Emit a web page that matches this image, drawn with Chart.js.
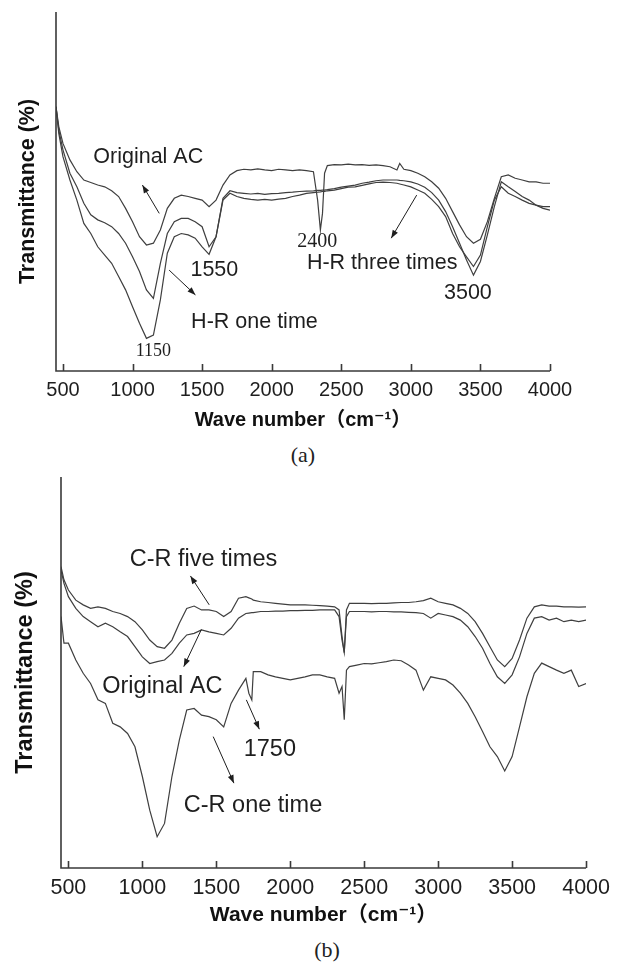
<!DOCTYPE html>
<html>
<head>
<meta charset="utf-8">
<script src="https://cdn.jsdelivr.net/npm/chart.js@4.4.0/dist/chart.umd.min.js"></script>
<style>
  body { margin: 0; background: #fff; width: 617px; height: 964px; position: relative; overflow: hidden; }
  .panel { position: absolute; left: 0; width: 617px; }
  .cap { position: absolute; font-family: "Liberation Serif", "Times New Roman", serif; font-size: 22px;
         line-height: 24px; text-align: center; color: #222; width: 200px; }
</style>
</head>
<body>
<div class="panel" style="top:0;height:440px"><canvas id="chartA"></canvas></div>
<div class="cap" style="left:203px;top:443px">(a)</div>
<div class="panel" style="top:464px;height:470px"><canvas id="chartB"></canvas></div>
<div class="cap" style="left:227px;top:938px">(b)</div>
<script>
// wave numbers (cm-1) and transmittance readings, panel (a)
const waveA = [450,470,500,550,600,650,700,750,800,850,900,950,1000,1050,1100,1150,1200,1250,1300,1350,1400,1450,1500,1550,1600,1650,1700,1750,1800,1850,1900,1950,2000,2050,2100,2150,2200,2250,2300,2330,2350,2365,2380,2400,2450,2500,2550,2600,2650,2700,2750,2800,2850,2900,2920,2950,3000,3050,3100,3150,3200,3250,3300,3350,3400,3450,3500,3550,3600,3650,3700,3750,3800,3850,3900,3950,4000];
const origA = [73.6,68.1,63.4,58.8,55.5,53.2,52.5,51.8,51.3,50.2,48.6,45.3,41.6,37.4,35.1,35.6,39.3,45.3,48.1,49.0,48.6,48.1,47.6,45.8,47.6,51.8,54.6,55.8,56.2,56.0,56.3,56.0,55.8,56.2,56.0,55.8,56.0,55.8,55.5,47.6,39.3,43.9,55.1,57.2,57.5,57.4,57.6,57.4,57.5,57.3,57.4,57.2,56.9,56.0,57.8,56.2,55.8,55.1,54.1,52.7,50.9,48.1,44.4,40.7,37.4,35.6,36.7,41.6,48.1,54.1,54.6,53.7,53.2,52.7,52.7,52.3,52.3];
const hr3A = [73.6,67.1,61.6,55.1,51.3,46.7,43.5,42.1,41.3,40.2,38.3,35.6,31.8,27.7,22.6,20.2,30.0,38.3,41.6,42.5,42.5,41.6,40.2,34.6,37.4,48.1,50.2,49.7,49.5,49.3,49.5,49.2,49.4,49.5,49.7,49.8,50.0,50.1,50.2,50.3,50.3,50.4,50.4,50.5,50.8,51.2,51.5,51.8,52.3,52.6,53.0,53.2,53.2,53.2,53.1,53.0,52.7,52.1,51.2,49.7,47.6,44.4,40.2,35.6,30.9,26.7,30.5,37.9,45.8,52.7,51.3,50.0,48.6,47.6,46.2,45.3,44.8];
const hr1A = [73.6,66.2,59.7,53.2,47.6,41.1,38.3,34.6,32.3,30.0,26.3,22.6,17.9,13.3,9.1,10.0,19.8,32.8,37.4,38.3,37.9,37.0,34.6,32.5,37.4,47.6,49.5,48.6,48.1,47.8,47.6,47.8,47.6,47.9,48.1,48.6,49.0,49.5,49.7,49.8,49.9,50.0,50.0,50.2,50.4,50.8,51.2,51.3,51.7,52.1,52.5,52.6,52.5,52.3,52.1,51.8,51.3,50.4,49.5,47.8,45.8,43.0,38.3,34.6,31.8,29.1,32.3,40.2,47.6,51.3,49.5,48.6,47.6,46.7,46.2,45.8,45.8];

// panel (b)
const waveB = [450,470,500,550,600,650,700,750,800,850,900,950,1000,1050,1100,1150,1200,1250,1300,1350,1400,1450,1500,1550,1600,1650,1700,1720,1740,1750,1800,1850,1900,1950,2000,2050,2100,2150,2200,2250,2300,2330,2350,2365,2380,2400,2450,2500,2550,2600,2650,2700,2750,2800,2850,2900,2950,3000,3050,3100,3150,3200,3250,3300,3350,3400,3450,3500,3550,3600,3650,3700,3750,3800,3850,3900,3950,4000];
const cr5B = [77.1,73.7,71.1,68.5,67.3,66.4,66.8,66.4,65.6,65.1,64.3,63.0,60.9,58.3,56.6,56.2,58.3,62.6,66.4,67.0,66.0,66.0,65.6,64.3,65.6,69.0,69.4,69.1,68.8,68.5,68.1,67.9,67.7,67.5,67.3,67.3,67.3,67.2,67.1,67.0,66.8,66.0,59.2,55.1,66.0,67.7,67.7,67.7,67.6,67.7,67.7,67.8,67.9,67.9,68.1,68.4,69.0,68.1,67.7,67.3,66.4,65.1,63.0,60.0,56.6,53.2,51.5,53.6,58.3,63.9,66.8,67.3,67.0,67.0,66.8,66.8,66.7,66.8];
const origB = [76.2,72.8,69.4,66.4,64.3,63.0,61.7,62.6,61.7,60.4,59.2,56.6,54.0,52.3,52.8,53.2,54.9,57.5,59.6,60.0,60.9,60.4,60.0,59.6,61.3,63.9,65.1,65.2,65.3,65.3,65.6,65.6,65.7,65.7,65.8,65.8,65.9,65.9,66.0,66.0,66.0,64.3,58.3,55.1,64.3,65.6,65.6,65.6,65.5,65.6,65.6,65.5,65.5,65.4,65.3,65.1,63.9,65.1,64.7,64.3,63.4,61.7,59.2,56.2,52.3,48.9,47.2,49.4,54.0,60.0,63.9,64.3,63.4,63.9,63.0,63.4,63.0,63.4];
const cr1B = [64.3,57.5,57.5,53.2,49.8,47.2,43.0,42.1,37.0,36.1,34.4,31.0,23.4,14.8,8.0,11.4,23.4,32.7,40.4,40.8,39.1,38.7,37.9,36.1,42.1,45.5,48.5,44.7,43.0,50.2,50.2,49.4,48.9,48.5,48.1,48.5,48.9,49.4,49.4,48.9,48.5,44.7,46.4,37.9,50.6,51.5,51.9,52.3,52.2,52.5,52.8,53.2,53.0,51.9,50.6,45.5,48.9,48.5,48.1,46.8,44.7,42.1,38.7,34.9,31.0,28.5,24.8,28.5,36.1,43.8,49.8,52.4,51.5,50.6,49.8,50.6,46.4,47.2];

const tickWaves = [500, 1000, 1500, 2000, 2500, 3000, 3500, 4000];

const sans = '"Liberation Sans", Arial, "DejaVu Sans", "Noto Sans CJK SC", sans-serif';
const serif = '"Liberation Serif", "Times New Roman", serif';
const axisColor = '#3a3a3a';
const lineColor = '#3f3f3f';

function series(xs, ys) {
  return xs.map((x, i) => ({ x: x, y: ys[i] }));
}

// axis frame, inward ticks, peak labels and arrows
const frame = {
  id: 'frame',
  afterDatasetsDraw(chart, args, opts) {
    const { ctx, chartArea: a, scales: { x, y } } = chart;
    ctx.save();
    ctx.strokeStyle = axisColor;
    ctx.lineWidth = 1.6;
    ctx.beginPath();
    ctx.moveTo(a.left, a.top);
    ctx.lineTo(a.left, a.bottom);
    ctx.lineTo(a.right, a.bottom);
    x.ticks.forEach(t => {
      const px = Math.round(x.getPixelForValue(t.value)) + 0.5;
      ctx.moveTo(px, a.bottom);
      ctx.lineTo(px, a.bottom - 7);
    });
    ctx.stroke();

    ctx.fillStyle = '#1e1e1e';
    ctx.strokeStyle = '#1e1e1e';
    ctx.lineWidth = 1;
    ctx.textAlign = 'center';
    ctx.textBaseline = 'middle';
    (opts.notes || []).forEach(n => {
      ctx.font = n.size + 'px ' + (n.serif ? serif : sans);
      ctx.fillText(n.text, x.getPixelForValue(n.x), y.getPixelForValue(n.y));
    });
    (opts.arrows || []).forEach(r => {
      const x1 = x.getPixelForValue(r.from[0]), y1 = y.getPixelForValue(r.from[1]);
      const x2 = x.getPixelForValue(r.to[0]), y2 = y.getPixelForValue(r.to[1]);
      const ang = Math.atan2(y2 - y1, x2 - x1);
      ctx.beginPath();
      ctx.moveTo(x1, y1);
      ctx.lineTo(x2, y2);
      ctx.stroke();
      ctx.beginPath();
      ctx.moveTo(x2, y2);
      ctx.lineTo(x2 - 8 * Math.cos(ang) + 3 * Math.sin(ang), y2 - 8 * Math.sin(ang) - 3 * Math.cos(ang));
      ctx.lineTo(x2 - 8 * Math.cos(ang) - 3 * Math.sin(ang), y2 - 8 * Math.sin(ang) + 3 * Math.cos(ang));
      ctx.closePath();
      ctx.fill();
    });
    ctx.restore();
  }
};

function makeChart(id, wave, curves, cfg) {
  return new Chart(document.getElementById(id), {
    type: 'line',
    data: {
      datasets: curves.map(c => ({
        data: series(wave, c),
        borderColor: lineColor,
        borderWidth: 1.2,
        pointRadius: 0,
        tension: 0,
        fill: false
      }))
    },
    options: {
      responsive: true,
      maintainAspectRatio: false,
      animation: false,
      layout: { padding: { top: cfg.top, right: cfg.right, left: 0, bottom: 0 } },
      plugins: {
        legend: { display: false },
        tooltip: { enabled: false },
        frame: { notes: cfg.notes, arrows: cfg.arrows }
      },
      scales: {
        x: {
          type: 'linear',
          min: 450,
          max: 4000,
          afterBuildTicks: s => { s.ticks = tickWaves.map(v => ({ value: v })); },
          afterFit: s => { s.height = cfg.xHeight; },
          grid: { display: false, drawTicks: false },
          border: { display: false },
          ticks: {
            color: '#1e1e1e', padding: 7, maxRotation: 0,
            font: { family: sans, size: cfg.tickSize },
            callback: v => String(v)
          },
          title: {
            display: true,
            text: 'Wave number（cm⁻¹）',
            color: '#111',
            padding: { top: 0, bottom: cfg.xTitlePad },
            font: { family: sans, size: cfg.xTitleSize, weight: 'bold' }
          }
        },
        y: {
          min: 0,
          max: 100,
          afterFit: s => { s.width = cfg.yWidth; },
          grid: { display: false, drawTicks: false },
          border: { display: false },
          ticks: { display: false },
          title: {
            display: true,
            text: 'Transmittance (%)',
            color: '#111',
            padding: { top: cfg.yTitlePad, bottom: 0 },
            font: { family: sans, size: cfg.yTitleSize, weight: 'bold' }
          }
        }
      }
    },
    plugins: [frame]
  });
}

makeChart('chartA', waveA, [origA, hr3A, hr1A], {
  top: 12, right: 67, xHeight: 69, yWidth: 56,
  tickSize: 20, xTitleSize: 20, xTitlePad: 8, yTitleSize: 21.5, yTitlePad: 15,
  notes: [
    { text: 'Original AC', x: 1113, y: 59.7, size: 21.5 },
    { text: '1550', x: 1588, y: 28.1, size: 21.5 },
    { text: 'H-R one time', x: 1876, y: 13.7, size: 21.5 },
    { text: '1150', x: 1150, y: 5.4, size: 18, serif: true },
    { text: '2400', x: 2328, y: 36.0, size: 20, serif: true },
    { text: 'H-R three times', x: 2794, y: 30.0, size: 21.5 },
    { text: '3500', x: 3410, y: 21.6, size: 21.5 }
  ],
  arrows: [
    { from: [1192, 43.9], to: [1071, 51.8] },
    { from: [1263, 28.1], to: [1452, 21.2] },
    { from: [3042, 49.0], to: [2859, 37.0] }
  ]
});

makeChart('chartB', waveB, [cr5B, origB, cr1B], {
  top: 13, right: 27, xHeight: 66, yWidth: 61,
  tickSize: 21.5, xTitleSize: 21, xTitlePad: 6, yTitleSize: 23.5, yTitlePad: 11,
  notes: [
    { text: 'C-R five times', x: 1413, y: 78.8, size: 23.5 },
    { text: 'Original AC', x: 1135, y: 46.4, size: 23.5 },
    { text: '1750', x: 1862, y: 30.2, size: 23.5 },
    { text: 'C-R one time', x: 1748, y: 16.1, size: 23.5 }
  ],
  arrows: [
    { from: [1452, 67.3], to: [1325, 74.7] },
    { from: [1399, 61.0], to: [1280, 51.5] },
    { from: [1703, 43.0], to: [1791, 35.5] },
    { from: [1479, 33.6], to: [1619, 21.7] }
  ]
});
</script>
</body>
</html>
